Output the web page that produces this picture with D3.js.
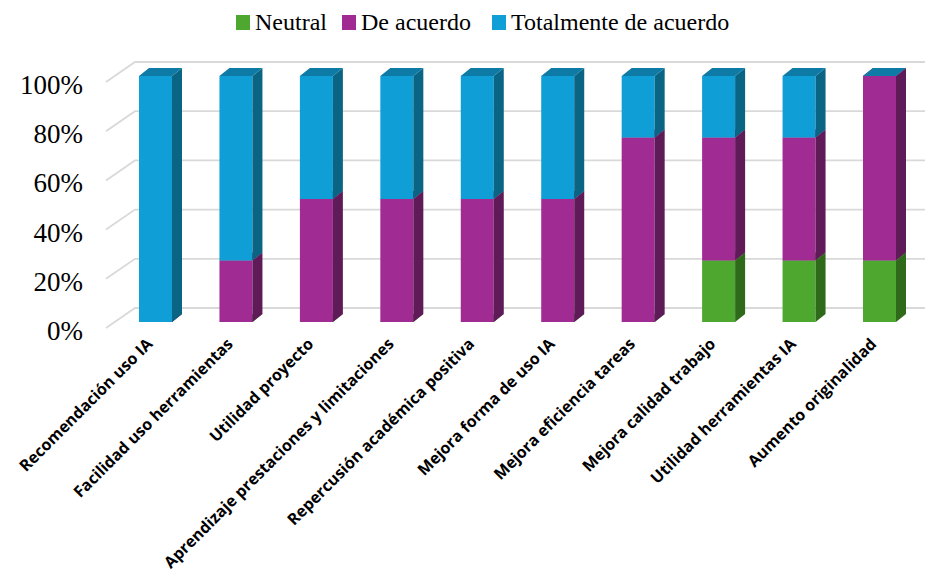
<!DOCTYPE html>
<html>
<head>
<meta charset="utf-8">
<script src="https://cdn.jsdelivr.net/npm/d3@7"></script>
<style>
  body { margin: 0; background: #fff; }
  svg text.serif { font-family: 'Liberation Serif', 'Tinos', 'Times New Roman', serif !important; }
  svg text.sans { font-family: 'Open Sans', sans-serif !important; font-weight: 700; }
</style>
</head>
<body>
<svg width="925" height="580"></svg>
<script>
const categories = [
  'Recomendación uso IA',
  'Facilidad uso herramientas',
  'Utilidad proyecto',
  'Aprendizaje prestaciones y limitaciones',
  'Repercusión académica positiva',
  'Mejora forma de uso IA',
  'Mejora eficiencia tareas',
  'Mejora calidad trabajo',
  'Utilidad herramientas IA',
  'Aumento originalidad'
];
const seriesNames = ['Neutral', 'De acuerdo', 'Totalmente de acuerdo'];
const neutral      = [0, 0, 0, 0, 0, 0, 0, 0.25, 0.25, 0.25];
const deAcuerdo    = [0, 0.25, 0.5, 0.5, 0.5, 0.5, 0.75, 0.5, 0.5, 0.75];
const totalmente   = [1, 0.75, 0.5, 0.5, 0.5, 0.5, 0.25, 0.25, 0.25, 0];
const yTicks = [0, 0.2, 0.4, 0.6, 0.8, 1];

const colors = {
  front: ['#4EA72E', '#A02B93', '#0F9ED5'],
  side:  ['#2F6A1B', '#5F1A58', '#0A6585'],
  top:   ['#3D8A24', '#7E2274', '#0E7BA6']
};

const svg = d3.select('svg');
const width = +svg.attr('width');

const barWidth = 33;
const depthX = 10, depthY = -8;         // bar depth
const wallDX = 29, wallFront = 6, wallBack = -14; // floor / wall offsets

const xScale = d3.scalePoint()
  .domain(categories)
  .range([155.5, 879.5]);

const yScale = d3.scaleLinear()
  .domain([0, 1])
  .range([322, 76]);

// legend first
const legendItems = [
  { name: 'Neutral', x: 236 },
  { name: 'De acuerdo', x: 342 },
  { name: 'Totalmente de acuerdo', x: 492 }
];
legendItems.forEach((d, k) => {
  svg.append('rect')
    .attr('x', d.x).attr('y', 15)
    .attr('width', 14).attr('height', 15)
    .attr('fill', colors.front[k]);
  svg.append('text')
    .attr('class', 'serif')
    .style('font-family', "'Liberation Serif'", 'important')
    .style('font-size', '24px')
    .attr('x', d.x + 19).attr('y', 30)
    .text(d.name);
});

// y tick labels
yTicks.forEach(t => {
  svg.append('text')
    .attr('class', 'serif')
    .style('font-family', "'Liberation Serif'", 'important')
    .style('font-size', '27px')
    .attr('x', 83)
    .attr('y', yScale(t) + 18)
    .attr('text-anchor', 'end')
    .text(d3.format('.0%')(t));
});

// gridlines: short diagonal on the left + back wall line
yTicks.forEach(t => {
  const y = yScale(t);
  svg.append('path')
    .attr('d', `M106,${y + wallFront} L${106 + wallDX},${y + wallBack} L${width},${y + wallBack}`)
    .attr('fill', 'none')
    .attr('stroke', '#D9D9D9')
    .attr('stroke-width', 1.8);
});

// stacked data
const data = categories.map((c, i) => ({
  cat: c,
  'Neutral': neutral[i],
  'De acuerdo': deAcuerdo[i],
  'Totalmente de acuerdo': totalmente[i]
}));
const stacked = d3.stack().keys(seriesNames)(data);

categories.forEach((c, i) => {
  const x0 = xScale(c) - barWidth / 2;
  const x1 = x0 + barWidth;
  stacked.forEach((layer, k) => {
    const [v0, v1] = layer[i];
    const yb = yScale(v0), yt = yScale(v1);
    svg.append('rect')
      .attr('x', x0).attr('y', yt)
      .attr('width', barWidth).attr('height', yb - yt)
      .attr('fill', colors.front[k]);
    svg.append('path')
      .attr('d', `M${x1},${yb} L${x1 + depthX},${yb + depthY} L${x1 + depthX},${yt + depthY} L${x1},${yt} Z`)
      .attr('fill', colors.side[k]);
    svg.append('path')
      .attr('d', `M${x0},${yt} L${x1},${yt} L${x1 + depthX},${yt + depthY} L${x0 + depthX},${yt + depthY} Z`)
      .attr('fill', colors.top[k]);
  });
});

// category labels
categories.forEach(c => {
  svg.append('text')
    .attr('class', 'sans')
    .style('font-size', '16px')
    .attr('text-anchor', 'end')
    .attr('transform', `translate(${xScale(c) - 2},345) rotate(-45)`)
    .text(c);
});
</script>
</body>
</html>
